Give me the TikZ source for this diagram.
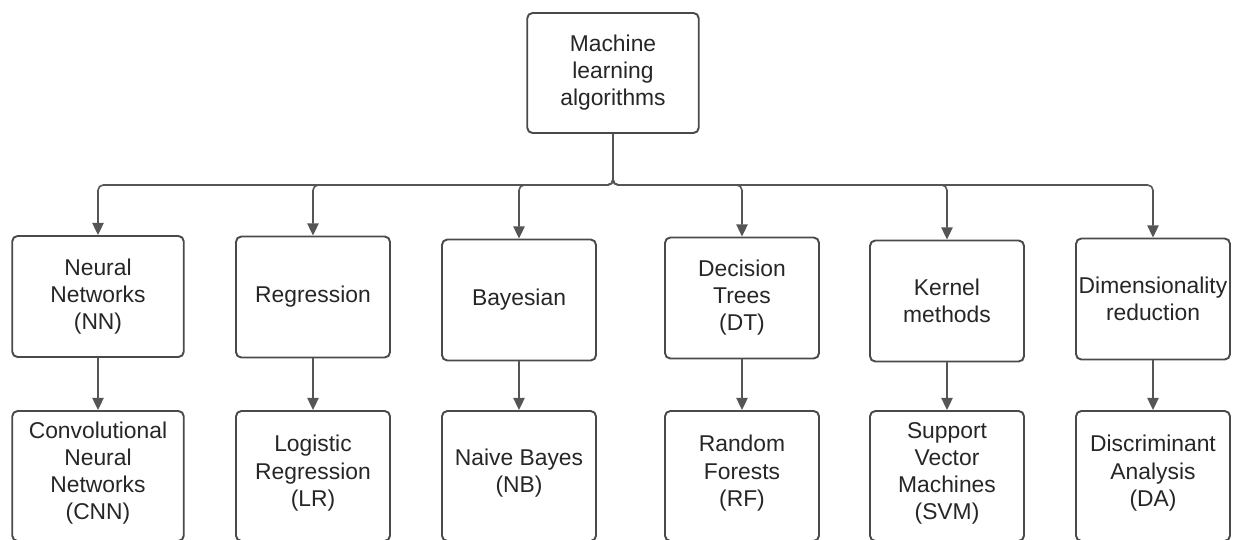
\documentclass[tikz,border=0pt]{standalone}
\usepackage{fontspec}
\setmainfont{Liberation Sans}
\usetikzlibrary{arrows.meta}
\definecolor{boxline}{HTML}{4A4A4A}
\definecolor{wire}{HTML}{555555}

\begin{document}
\begin{tikzpicture}[
  x=0.02cm, y=-0.02cm,
  algo/.style   = {draw=boxline, line width=1.1pt, rounded corners=3pt,
                   inner sep=1pt, align=center, text=black!85,
                   minimum width=3.08cm, minimum height=2.42cm,
                   font=\fontsize{13}{15.4}\selectfont},
  wide/.style   = {minimum width=3.43cm},   % first column and the root are wider
  leaf/.style   = {minimum height=2.6cm, text depth=6pt},   % the bottom row runs off the page
  branch/.style = {draw=wire, line width=0.9pt, rounded corners=3pt,
                   -{Triangle[length=7pt,width=6.5pt]}},
]
  \useasboundingbox (0,0) rectangle (1235,539);

  \node[algo, wide, minimum height=2.4cm] (ml) at (613,73) {Machine\\learning\\algorithms};

  \node[algo, wide] (nn)  at (98,296.5) {Neural\\Networks\\(NN)};
  \node[algo] (reg) at (313,297)   {Regression};
  \node[algo] (bay) at (519,300)   {Bayesian};
  \node[algo] (dt)  at (742,298)   {Decision\\Trees\\(DT)};
  \node[algo] (ker) at (947,301)   {Kernel\\methods};
  \node[algo] (dim) at (1153,299)  {Dimensionality\\reduction};

  \node[algo, wide, leaf] (cnn) at (98,476) {Convolutional\\Neural\\Networks\\(CNN)};
  \node[algo, leaf] (lr)  at (313,476)   {Logistic\\Regression\\(LR)};
  \node[algo, leaf] (nb)  at (519,476)   {Naive Bayes\\(NB)};
  \node[algo, leaf] (rf)  at (742,476)   {Random\\Forests\\(RF)};
  \node[algo, leaf] (svm) at (947,476)   {Support\\Vector\\Machines\\(SVM)};
  \node[algo, leaf] (da)  at (1153,476)  {Discriminant\\Analysis\\(DA)};

  \coordinate (bus) at (613,185);

  \draw[branch] (ml.south) -- (bus) -| (nn.north);
  \draw[branch] (ml.south) -- (bus) -| (reg.north);
  \draw[branch] (ml.south) -- (bus) -| (bay.north);
  \draw[branch] (ml.south) -- (bus) -| (dt.north);
  \draw[branch] (ml.south) -- (bus) -| (ker.north);
  \draw[branch] (ml.south) -- (bus) -| (dim.north);

  \draw[branch] (nn)  -- (cnn);
  \draw[branch] (reg) -- (lr);
  \draw[branch] (bay) -- (nb);
  \draw[branch] (dt)  -- (rf);
  \draw[branch] (ker) -- (svm);
  \draw[branch] (dim) -- (da);
\end{tikzpicture}
\end{document}
